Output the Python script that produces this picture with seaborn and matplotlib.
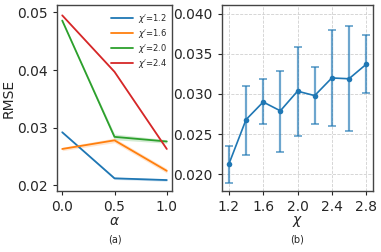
import numpy as np
import pandas as pd
import seaborn as sns
import matplotlib
matplotlib.use("Agg")
import matplotlib.pyplot as plt

# Panel (a)
alpha_vals = [0.0, 0.5, 1.0]
chi_labels = ["1.2", "1.6", "2.0", "2.4"]
rmse_12 = [0.0292, 0.0212, 0.0209]
rmse_16 = [0.0263, 0.0278, 0.0225]
rmse_20 = [0.0486, 0.0284, 0.0276]
rmse_24 = [0.0495, 0.0397, 0.0263]
band_12 = [0.0001, 0.0002, 0.0002]
band_16 = [0.0003, 0.0004, 0.0004]
band_20 = [0.0002, 0.0005, 0.0003]
band_24 = [0.0001, 0.0002, 0.0002]

# Panel (b)
chi_vals = [1.2, 1.4, 1.6, 1.8, 2.0, 2.2, 2.4, 2.6, 2.8]
rmse_mean = [0.02125, 0.0268, 0.0290, 0.0279, 0.03035, 0.0298, 0.0320, 0.0319, 0.0337]
rmse_low = [0.0189, 0.02245, 0.0262, 0.02275, 0.0247, 0.0263, 0.0260, 0.0254, 0.0301]
rmse_high = [0.0235, 0.0310, 0.03185, 0.0329, 0.0359, 0.03335, 0.0380, 0.0385, 0.0373]

sns.set_style("ticks")
plt.rcParams["font.family"] = ["DejaVu Sans"]

fig = plt.figure(figsize=(3.81, 2.52), dpi=100)
ax1 = fig.add_axes([57/381, 1-191/252, 115/381, 186/252])
ax2 = fig.add_axes([222/381, 1-191/252, 151/381, 186/252])

palette = sns.color_palette("tab10")
series = [rmse_12, rmse_16, rmse_20, rmse_24]
bands = [band_12, band_16, band_20, band_24]
rows = []
for lab, vals in zip(chi_labels, series):
    for a, v in zip(alpha_vals, vals):
        rows.append({"alpha": a, "rmse": v, "chi": "$\\chi'$=" + lab})
df = pd.DataFrame(rows)
sns.lineplot(data=df, x="alpha", y="rmse", hue="chi", palette=palette[:4],
             ax=ax1, errorbar=None, linewidth=1.3)
for i, (vals, b) in enumerate(zip(series, bands)):
    v = np.array(vals); bb = np.array(b)
    ax1.fill_between(alpha_vals, v - bb, v + bb, color=palette[i], alpha=0.2, linewidth=0)

ax1.set_ylim(0.0190, 0.0513)
ax1.set_yticks([0.02, 0.03, 0.04, 0.05])
ax1.set_xticks([0.0, 0.5, 1.0])
ax1.set_xlabel(r"$\alpha$", fontsize=10, labelpad=0)
ax1.set_ylabel("RMSE", fontsize=10)
ax1.yaxis.set_label_coords(-0.36, 0.5)
ax1.tick_params(labelsize=10, length=3)
leg = ax1.legend(loc="upper right", bbox_to_anchor=(1.0, 0.985), frameon=False,
                 fontsize=6, handlelength=2.6, handletextpad=0.6,
                 borderaxespad=0.25, labelspacing=0.22, borderpad=0.3)

dfb = pd.DataFrame({"chi": chi_vals, "rmse": rmse_mean})
low = np.array(rmse_mean) - np.array(rmse_low)
high = np.array(rmse_high) - np.array(rmse_mean)
ax2.errorbar(chi_vals, rmse_mean, yerr=[low, high], fmt="none", ecolor=palette[0],
             alpha=0.65, elinewidth=1.6, capsize=3, capthick=1.3)
sns.lineplot(data=dfb, x="chi", y="rmse", ax=ax2, color=palette[0], marker="o",
             markersize=4, markeredgewidth=0, linewidth=1.2)
ax2.set_ylim(0.0179, 0.0411)
ax2.set_xlim(1.12, 2.88)
ax2.set_xticks([1.2, 1.6, 2.0, 2.4, 2.8])
ax2.set_yticks([0.020, 0.025, 0.030, 0.035, 0.040])
ax2.set_yticklabels(["0.020", "0.025", "0.030", "0.035", "0.040"])
ax2.grid(True, linestyle="--", linewidth=0.6, color="#d0d0d0")
ax2.set_xlabel(r"$\chi$", fontsize=10, labelpad=0)
ax2.set_ylabel("")
ax2.tick_params(labelsize=10, length=3)

for ax in (ax1, ax2):
    for s in ax.spines.values():
        s.set_color("#444444")
        s.set_linewidth(1.0)

fig.text((57+172)/2/381, 1-240/252, "(a)", ha="center", va="center", fontsize=7)
fig.text((222+373)/2/381, 1-240/252, "(b)", ha="center", va="center", fontsize=7)

fig.savefig("out.png", dpi=100)
